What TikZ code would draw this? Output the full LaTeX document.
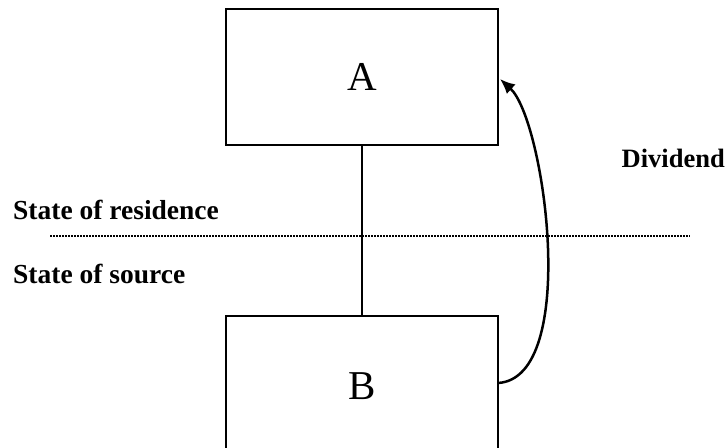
\documentclass[tikz,border=0pt]{standalone}
\usepackage{fontspec}
\setmainfont{Liberation Serif}
\usetikzlibrary{arrows.meta}
\begin{document}
\begin{tikzpicture}[x=1pt,y=-1pt,
  entity/.style={draw,line width=1.7pt,rectangle,minimum width=272pt,inner sep=0pt,font=\fontsize{41}{45}\selectfont},
  lbl/.style={anchor=base west,inner sep=0pt,font=\fontsize{27.5}{31}\selectfont\bfseries}]
\useasboundingbox (0,0) rectangle (728,447);
\clip (0,0) rectangle (728,447);
\node[entity,minimum height=136pt] (A) at (362,77) {A};
\node[entity,minimum height=140pt] (B) at (362,386) {B};
\draw[line width=1.5pt] (A.south) -- (B.north);
\coordinate (dl) at (50,236);
\coordinate (dr) at (690,236);
\draw[line width=1.5pt,dash pattern=on 1.5pt off 1.5pt] (dl) -- (dr);
\node[lbl] (res) at (13,219) {State of residence};
\node[lbl] (src) at (13,283) {State of source};
\node[lbl,anchor=base east,font=\fontsize{26.5}{30}\selectfont\bfseries] (div) at (725,167) {Dividend};
\coordinate (bs) at (498,383);
\coordinate (ae) at (500,79);
\draw[line width=2.5pt,-{Latex[length=15pt,width=13pt]}] (bs) .. controls (580,378) and (545,120) .. (ae);
\end{tikzpicture}
\end{document}
